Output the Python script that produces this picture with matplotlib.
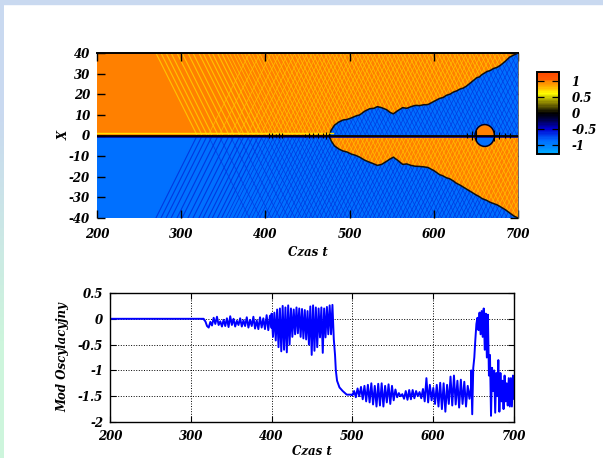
import numpy as np
import matplotlib
matplotlib.use("Agg")
import matplotlib.pyplot as plt
from matplotlib.colors import LinearSegmentedColormap, Normalize
from matplotlib.cm import ScalarMappable
from matplotlib.patches import Ellipse, Rectangle, Polygon

plt.rcParams['font.family'] = ['DejaVu Serif']
plt.rcParams['font.weight'] = 'bold'
plt.rcParams['font.style'] = 'italic'
plt.rcParams['axes.labelweight'] = 'bold'

# Front between the two phases (upper half, lower half)
front_t = [476, 478, 482, 487, 492, 497, 502, 507, 512, 518, 524, 529, 533, 538, 544, 548, 552, 557, 563, 568, 573, 578, 583, 588, 593, 600, 607, 611, 615, 619, 623, 627, 631, 635, 639, 645, 651, 654, 657, 660, 663, 667, 671, 675, 679, 685, 690, 695, 700]
front_up = [0, 2.5, 5, 6.5, 7.5, 7.8, 8.5, 9.4, 10, 11.8, 13, 13.2, 14, 13.5, 12.5, 11.2, 10.5, 12, 13.5, 13.2, 14, 14.6, 14.5, 14.9, 15, 16.5, 18, 18.4, 19.5, 20, 21, 21.6, 22.5, 23, 24, 26, 28, 28.4, 29.5, 30.2, 31, 31.5, 32.5, 33, 34, 36, 38, 39, 40]
front_dn = [0, -2.5, -5, -6.5, -7.5, -8, -9, -9.6, -10.5, -12, -13, -13.8, -14.5, -14, -12.5, -11.4, -10.5, -12, -14, -13.8, -14.5, -14.9, -15, -15.2, -15.5, -17, -19, -19.6, -20.5, -21, -22, -23.2, -24, -25, -26, -27.5, -29, -29.6, -30.5, -31, -31.5, -32.4, -33, -33.6, -34.5, -36, -37.5, -39, -40]

# Stripes: time at which each wave crosses X=0
wave_in = [319, 325, 331, 337, 344, 350, 357, 363, 370, 375, 381, 386, 392, 397, 402, 406, 411, 415, 420, 424, 429, 433, 438, 442, 447, 451, 456, 460, 465, 469, 474, 478, 483, 487, 492, 496, 501, 505, 510, 514, 519, 523, 528, 532, 537, 541, 546, 550, 555, 559, 564, 568, 573, 577, 582, 586, 591, 595, 600, 604, 609, 613, 618, 622, 627, 631, 636, 640, 645, 649, 654, 658, 663, 667, 672, 676, 681, 685, 690, 694, 699, 704, 709, 714, 719, 724, 729, 734, 739, 745]
wave_out = [332, 345, 358, 368, 378, 386, 394, 401, 407, 413, 419, 425, 431, 437, 442, 448, 454, 459, 465, 471, 476, 482, 488, 494, 500, 506, 512, 518, 524, 530, 536, 542, 548, 554, 560, 566, 572, 578, 584, 590, 596, 602, 608, 614, 620, 626, 632, 638, 644, 650, 656, 662, 668, 674, 680, 686, 692, 698]
wave_dt = 49   # time a wave needs for 40 units of X

# Dark spikes on the centre line
spike_t = [404, 408, 412, 416, 420, 447, 452, 456, 463, 468, 472, 476, 640, 645, 650, 672, 678, 684, 690]
spike_h = [1.0, 1.2, 0.9, 1.2, 1.0, 0.9, 1.3, 1.0, 1.4, 1.3, 1.5, 1.2, 1.2, 2.0, 2.5, 2.6, 1.8, 1.4, 1.0]

# Small bubble near t=660
bubble_t = 660.5
bubble_x = 0.0
bubble_w = 23
bubble_h = 10.6

# Colour scale
cb_ticks = [1, 0.5, 0, -0.5, -1]
cb_labels = ['1', '0.5', '0', '-0.5', '-1']
cb_lim = 1.27
cb_stops = [-1.27, -0.85, -0.5, -0.2, 0.0, 0.3, 0.62, 0.82, 1.02, 1.05, 1.27]
cb_cols = ['#00aaff', '#0068ff', '#0000d0', '#000040', '#000000', '#807800', '#ffff00', '#ffb000', '#ff8000', '#ff5a00', '#ff4a00']

# Lower plot, piece by piece
flat_t = [200, 250, 300, 316]
flat_y = [0, 0, 0, 0]

y_a = [-0.01, -0.05, -0.14, -0.17, -0.06, -0.13, 0.02, -0.1, 0.04, -0.12, -0.05, -0.15, -0.02, -0.14, 0.01, -0.16, 0.05, -0.12, 0.0, -0.15, -0.04, -0.12, 0.01, -0.15, -0.03, -0.14, 0.03, -0.17, -0.02, -0.14, 0.04, -0.19, -0.03, -0.2, 0.03, -0.17, 0.01, -0.2, 0.07, -0.22, 0.06, -0.18]
y_b = [0.1, -0.35, 0.12, -0.42, 0.18, -0.55, 0.2, -0.63, 0.25, -0.6, 0.22, -0.65, 0.26, -0.5, 0.2, -0.35, 0.18, -0.3, 0.22, -0.28, 0.2, -0.35, 0.19, -0.38, 0.17, -0.4, 0.15, -0.5, 0.24, -0.7, 0.26, -0.62, 0.22, -0.55, 0.2, -0.36, 0.22, -0.66, 0.2, -0.36, 0.23, -0.3, 0.26, -0.3, 0.27, -0.4]
t_c = [477, 478.5, 479.5, 481, 484, 488, 493, 500]
y_c = [-0.4, -0.7, -1.0, -1.2, -1.33, -1.4, -1.47, -1.47]
y_d = [-1.48, -1.4, -1.52, -1.35, -1.5, -1.32, -1.56, -1.3, -1.6, -1.28, -1.62, -1.25, -1.66, -1.3, -1.7, -1.26, -1.68, -1.25, -1.7, -1.3, -1.62, -1.27, -1.65, -1.3, -1.58, -1.37, -1.52, -1.44, -1.5, -1.46, -1.55, -1.4, -1.57, -1.38, -1.56, -1.38, -1.54, -1.4, -1.5, -1.42, -1.54, -1.36, -1.6, -1.15, -1.62, -1.28, -1.58, -1.34, -1.65, -1.28, -1.7, -1.24, -1.75, -1.25, -1.8, -1.28, -1.65, -1.12, -1.68, -1.1, -1.66, -1.2, -1.72, -1.18, -1.65, -1.22, -1.7, -1.3, -1.55, -1.3]
y_e = [-1.0, -1.85, -0.95, -0.75, -0.4, -0.1, 0.02, -0.22, 0.12, -0.3, 0.15, -0.35, 0.2, -0.6, 0.1, -0.75, 0.08, -1.1, -0.7, -1.88, -0.95, -1.4, -1.0, -1.82, -1.05, -1.5, -0.8, -1.8, -1.05, -1.6, -1.2, -1.75, -1.1, -1.6, -1.25, -1.68, -1.15, -1.7, -1.15, -1.7, -1.1, -1.55]

W, H = 603, 458


def px_axes(fig, left, top, right, bottom):
    return fig.add_axes([left / W, 1 - bottom / H, (right - left) / W, (bottom - top) / H])


def bold_ticks(ax):
    for lab in ax.get_xticklabels() + ax.get_yticklabels():
        lab.set_fontstyle('italic')
        lab.set_fontweight('bold')


fig = plt.figure(figsize=(W / 100, H / 100), dpi=100)
fig.patches.append(Rectangle((0, 1 - 4 / H), 1, 4 / H, transform=fig.transFigure, color='#c9d9f0'))
band = px_axes(fig, 0, 0, 4, H)
band.imshow([[0.0], [1.0]], aspect='auto', interpolation='bilinear',
            cmap=LinearSegmentedColormap.from_list('band', ['#c9d9f0', '#cdf5dc']))
band.axis('off')

cmap = LinearSegmentedColormap.from_list(
    'pm', [((s + cb_lim) / (2 * cb_lim), c) for s, c in zip(cb_stops, cb_cols)], N=64)
norm = Normalize(-cb_lim, cb_lim)
orange = '#ff8000'
blue = '#0070ff'
yellow = '#ffc400'
dark_blue = '#0038e0'

# --- top map ---
ax = px_axes(fig, 97, 53, 518, 218)
ax.set_xlim(200, 700)
ax.set_ylim(-40, 40)
ax.set_facecolor(blue)
ax.axhspan(0, 40, color=orange, lw=0, zorder=0)

for t0 in wave_in:
    w = 0.8 if t0 < 400 else 0.55
    ax.plot([t0, t0 - wave_dt], [0, 40], color=yellow, lw=w, zorder=1)
    ax.plot([t0, t0 - wave_dt], [0, -40], color=dark_blue, lw=w, zorder=1)
for t0 in wave_out:
    ax.plot([t0, t0 + wave_dt], [0, 40], color=yellow, lw=0.55, zorder=1, alpha=0.8)
    ax.plot([t0, t0 + wave_dt], [0, -40], color=dark_blue, lw=0.55, zorder=1, alpha=0.8)

# flipped region behind the front, closed along X=0
up_poly = Polygon(list(zip(front_t, front_up)) + [(700, 0)], closed=True, color=blue, lw=0, zorder=2)
dn_poly = Polygon(list(zip(front_t, front_dn)) + [(700, 0)], closed=True, color=orange, lw=0, zorder=2)
ax.add_patch(up_poly)
ax.add_patch(dn_poly)
for t0, end in [(t, t - wave_dt) for t in wave_in] + [(t, t + wave_dt) for t in wave_out]:
    l1, = ax.plot([t0, end], [0, 40], color=dark_blue, lw=0.55, zorder=3, alpha=0.85)
    l1.set_clip_path(up_poly)
    l2, = ax.plot([t0, end], [0, -40], color=yellow, lw=0.55, zorder=3, alpha=0.85)
    l2.set_clip_path(dn_poly)
ax.plot(front_t, front_up, color='#101010', lw=1.1, zorder=4)
ax.plot(front_t, front_dn, color='#101010', lw=1.1, zorder=4)

# bubble
bub_up = Ellipse((bubble_t, bubble_x), bubble_w, bubble_h, color=orange, lw=0, zorder=5)
bub_dn = Ellipse((bubble_t, bubble_x), bubble_w, bubble_h, color=blue, lw=0, zorder=5)
ax.add_patch(bub_up)
ax.add_patch(bub_dn)
bub_up.set_clip_path(Rectangle((600, 0), 200, 40, transform=ax.transData))
bub_dn.set_clip_path(Rectangle((600, -40), 200, 40, transform=ax.transData))
ax.add_patch(Ellipse((bubble_t, bubble_x), bubble_w, bubble_h, edgecolor='#000020', fill=False, lw=1.1, zorder=6))

# centre line
ax.plot([200, 480], [1.1, 1.1], color='#ffe000', lw=1.0, zorder=7)
ax.axhline(-0.9, color='#0000a0', lw=1.2, zorder=7)
ax.axhline(0, color='black', lw=1.3, zorder=8)
ax.vlines(spike_t, -np.array(spike_h), spike_h, color='black', lw=0.8, zorder=8)

for s in ['left', 'bottom']:
    ax.spines[s].set_visible(False)
ax.spines['top'].set_linewidth(1.4)
ax.spines['right'].set_linewidth(0.6)
ax.spines['right'].set_color('#555555')
ax.set_xticks([200, 300, 400, 500, 600, 700])
ax.set_xticklabels(['200', '300', '400', '500', '600', '700'])
ax.set_yticks([-40, -30, -20, -10, 0, 10, 20, 30, 40])
ax.set_yticklabels(['-40', '-30', '-20', '-10', '0', '10', '20', '30', '40'])
ax.tick_params(direction='in', length=6, width=1.0, labelsize=8.5, pad=7, top=True, right=True)
ax.tick_params(axis='y', pad=5)
bold_ticks(ax)
ax.set_xlabel('Czas t', fontsize=8.5, labelpad=4)
ax.set_ylabel('X', fontsize=8.5, labelpad=-1)

# --- colour bar ---
cax = px_axes(fig, 537, 72, 559, 154)
cb = fig.colorbar(ScalarMappable(norm=norm, cmap=cmap), cax=cax)
cb.set_ticks(cb_ticks)
cb.set_ticklabels(cb_labels)
cb.ax.tick_params(direction='in', length=5, width=0.9, labelsize=8.5, left=True, right=True, pad=9)
bold_ticks(cb.ax)
cb.outline.set_linewidth(1.4)

# --- lower plot ---
ax2 = px_axes(fig, 110, 293, 514, 422)
ax2.set_xlim(200, 700)
ax2.set_ylim(-2, 0.5)
mode_t = np.concatenate([flat_t, np.linspace(316, 400, len(y_a)), np.linspace(400, 477, len(y_b)),
                         t_c, np.linspace(500, 647, len(y_d)), np.linspace(647, 700, len(y_e))])
mode_y = np.concatenate([flat_y, y_a, y_b, y_c, y_d, y_e])
ax2.plot(mode_t, mode_y, color='#0000ff', lw=1.4)
ax2.grid(True, color='black', linestyle=':', lw=0.7)
ax2.set_axisbelow(True)
ax2.set_xticks([200, 300, 400, 500, 600, 700])
ax2.set_xticklabels(['200', '300', '400', '500', '600', '700'])
ax2.set_yticks([-2, -1.5, -1, -0.5, 0, 0.5])
ax2.set_yticklabels(['-2', '-1.5', '-1', '-0.5', '0', '0.5'])
ax2.tick_params(direction='in', length=4, width=0.8, labelsize=8.5, pad=6, top=True, right=True)
ax2.tick_params(axis='y', pad=5)
bold_ticks(ax2)
for s in ax2.spines.values():
    s.set_linewidth(1.0)
ax2.set_xlabel('Czas t', fontsize=8.5, labelpad=1)
ax2.set_ylabel('Mod Oscylacyjny', fontsize=8.5, labelpad=6)

fig.savefig('out.png', dpi=100)
